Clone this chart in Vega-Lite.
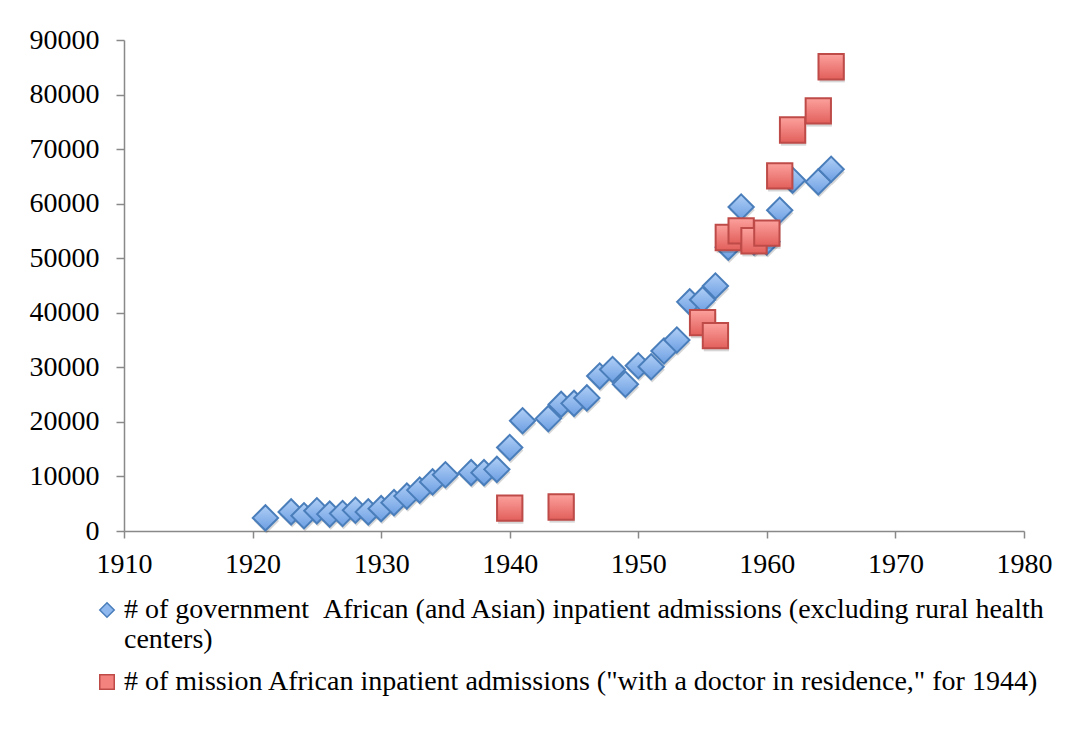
{
  "$schema": "https://vega.github.io/schema/vega-lite/v6.json",
  "width": 900,
  "height": 491,
  "autosize": {"type": "none"},
  "padding": {"left": 124, "top": 40, "right": 54, "bottom": 214},
  "background": "white",
  "config": {
    "view": {"stroke": null},
    "font": "Liberation Serif",
    "axis": {
      "grid": false,
      "domainColor": "#898989",
      "domainWidth": 1.5,
      "tickColor": "#898989",
      "tickWidth": 1.5,
      "labelFont": "Liberation Serif",
      "labelFontSize": 28,
      "labelColor": "#000000",
      "title": null
    }
  },
  "data": {
    "values": [
      {"year": 1921, "value": 2400, "series": "gov"},
      {"year": 1923, "value": 3500, "series": "gov"},
      {"year": 1924, "value": 2800, "series": "gov"},
      {"year": 1925, "value": 3700, "series": "gov"},
      {"year": 1926, "value": 3100, "series": "gov"},
      {"year": 1927, "value": 3200, "series": "gov"},
      {"year": 1928, "value": 3800, "series": "gov"},
      {"year": 1929, "value": 3500, "series": "gov"},
      {"year": 1930, "value": 4100, "series": "gov"},
      {"year": 1931, "value": 5200, "series": "gov"},
      {"year": 1932, "value": 6400, "series": "gov"},
      {"year": 1933, "value": 7500, "series": "gov"},
      {"year": 1934, "value": 9000, "series": "gov"},
      {"year": 1935, "value": 10300, "series": "gov"},
      {"year": 1937, "value": 10700, "series": "gov"},
      {"year": 1938, "value": 10700, "series": "gov"},
      {"year": 1939, "value": 11300, "series": "gov"},
      {"year": 1940, "value": 15300, "series": "gov"},
      {"year": 1941, "value": 20200, "series": "gov"},
      {"year": 1943, "value": 20600, "series": "gov"},
      {"year": 1944, "value": 23200, "series": "gov"},
      {"year": 1945, "value": 23400, "series": "gov"},
      {"year": 1946, "value": 24400, "series": "gov"},
      {"year": 1947, "value": 28400, "series": "gov"},
      {"year": 1948, "value": 29600, "series": "gov"},
      {"year": 1949, "value": 26900, "series": "gov"},
      {"year": 1950, "value": 30300, "series": "gov"},
      {"year": 1951, "value": 30100, "series": "gov"},
      {"year": 1952, "value": 33000, "series": "gov"},
      {"year": 1953, "value": 35000, "series": "gov"},
      {"year": 1954, "value": 42000, "series": "gov"},
      {"year": 1955, "value": 42400, "series": "gov"},
      {"year": 1956, "value": 44900, "series": "gov"},
      {"year": 1957, "value": 52000, "series": "gov"},
      {"year": 1958, "value": 59400, "series": "gov"},
      {"year": 1959, "value": 53000, "series": "gov"},
      {"year": 1960, "value": 53000, "series": "gov"},
      {"year": 1961, "value": 58800, "series": "gov"},
      {"year": 1962, "value": 64300, "series": "gov"},
      {"year": 1964, "value": 64000, "series": "gov"},
      {"year": 1965, "value": 66300, "series": "gov"},
      {"year": 1940, "value": 4200, "series": "mission"},
      {"year": 1944, "value": 4400, "series": "mission"},
      {"year": 1955, "value": 38200, "series": "mission"},
      {"year": 1956, "value": 35800, "series": "mission"},
      {"year": 1957, "value": 53800, "series": "mission"},
      {"year": 1958, "value": 55000, "series": "mission"},
      {"year": 1959, "value": 53200, "series": "mission"},
      {"year": 1960, "value": 54600, "series": "mission"},
      {"year": 1961, "value": 65100, "series": "mission"},
      {"year": 1962, "value": 73500, "series": "mission"},
      {"year": 1964, "value": 77000, "series": "mission"},
      {"year": 1965, "value": 85100, "series": "mission"}
    ]
  },
  "encoding": {
    "x": {
      "field": "year",
      "type": "quantitative",
      "scale": {"domain": [1910, 1980], "nice": false, "zero": false},
      "axis": {"values": [1910, 1920, 1930, 1940, 1950, 1960, 1970, 1980], "format": "d", "tickSize": 7, "labelPadding": 12, "labelFlush": false}
    },
    "y": {
      "field": "value",
      "type": "quantitative",
      "scale": {"domain": [0, 90000], "nice": false},
      "axis": {"values": [0, 10000, 20000, 30000, 40000, 50000, 60000, 70000, 80000, 90000], "format": "d", "tickSize": 8, "labelPadding": 17}
    },
    "shape": {
      "field": "series",
      "type": "nominal",
      "scale": {"domain": ["gov", "mission"], "range": ["diamond", "square"]},
      "legend": {
        "orient": "none",
        "legendX": -31,
        "legendY": 556,
        "direction": "vertical",
        "title": null,
        "padding": 0,
        "symbolSize": 210,
        "symbolStrokeWidth": 1.5,
        "labelFont": "Liberation Serif",
        "labelFontSize": 28,
        "labelColor": "#000000",
        "labelLimit": 2000,
        "labelOffset": 3,
        "rowPadding": 14,
        "labelExpr": "datum.label == 'gov' ? ['# of government \u00a0African (and Asian) inpatient admissions (excluding rural health', 'centers)'] : '# of mission African inpatient admissions (\"with a doctor in residence,\" for 1944)'",
        "encode": {
          "labels": {"update": {"lineHeight": {"value": 27}}}
        }
      }
    },
    "stroke": {
      "field": "series",
      "type": "nominal",
      "scale": {"domain": ["gov", "mission"], "range": ["#4a7ebb", "#be4b48"]},
      "legend": null
    }
  },
  "layer": [
    {
      "transform": [{"filter": "false"}],
      "mark": {"type": "point", "filled": true, "opacity": 1, "strokeWidth": 1.5},
      "encoding": {
        "fill": {
          "field": "series",
          "type": "nominal",
          "scale": {"domain": ["gov", "mission"], "range": ["#8fb8ee", "#f3827e"]},
          "legend": null
        }
      }
    },
    {
      "transform": [{"filter": "datum.series == 'gov'"}],
      "mark": {"type": "point", "filled": true, "size": 640, "fill": "#000000", "fillOpacity": 0.16, "strokeOpacity": 0, "xOffset": 1, "yOffset": 3}
    },
    {
      "transform": [{"filter": "datum.series == 'gov'"}],
      "mark": {
        "type": "point", "filled": true, "size": 640, "strokeWidth": 2, "opacity": 1, "fillOpacity": 1, "strokeOpacity": 1,
        "fill": {"gradient": "linear", "x1": 0, "y1": 0, "x2": 0, "y2": 1, "stops": [{"offset": 0, "color": "#b0cff6"}, {"offset": 1, "color": "#6c9ee2"}]}
      }
    },
    {
      "transform": [{"filter": "datum.series == 'mission'"}],
      "mark": {"type": "point", "filled": true, "size": 640, "fill": "#000000", "fillOpacity": 0.16, "strokeOpacity": 0, "xOffset": 1, "yOffset": 3}
    },
    {
      "transform": [{"filter": "datum.series == 'mission'"}],
      "mark": {
        "type": "point", "filled": true, "size": 640, "strokeWidth": 2, "opacity": 1, "fillOpacity": 1, "strokeOpacity": 1,
        "fill": {"gradient": "linear", "x1": 0, "y1": 0, "x2": 0, "y2": 1, "stops": [{"offset": 0, "color": "#fca19d"}, {"offset": 1, "color": "#e25f5b"}]}
      }
    }
  ]
}
